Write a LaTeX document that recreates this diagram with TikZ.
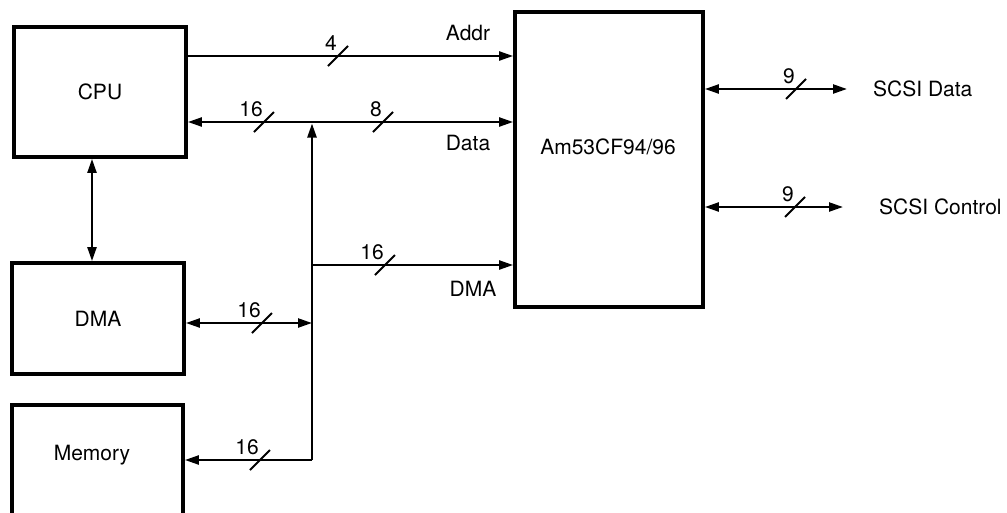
\documentclass[tikz,border=0pt]{standalone}
\usepackage{fontspec}
\setmainfont{TeX Gyre Heros}
\usetikzlibrary{arrows.meta,calc}
\begin{document}
\begin{tikzpicture}[x=1pt,y=-1pt,
  box/.style={draw,line width=3.8pt,inner sep=0pt},
  lbl/.style={font=\fontsize{21}{24}\selectfont,inner sep=0pt},
  wire/.style={line width=2.3pt},
  >={Triangle[length=14pt,width=9pt]},
  busslash/.pic={\draw[line width=2pt] (-10,10) -- (10,-10);}]
\clip (0,0) rectangle (1007,512);
% boxes
\node[box,lbl,minimum width=172pt,minimum height=130pt] (cpu) at (100,92) {CPU};
\node[box,lbl,minimum width=172pt,minimum height=111pt] (dma) at (98,318.5) {DMA};
\node[box,minimum width=171pt,minimum height=133pt] (mem) at (97.5,471.5) {};
\node[lbl,anchor=base] (memlbl) at (92,460) {Memory};
\node[box,minimum width=188pt,minimum height=295pt] (am) at (609,159.5) {};
\node[lbl] (amlbl) at (608,147) {Am53CF94/96};
% helper coordinates
\coordinate (yaddr) at (0,56);
\coordinate (ydata) at (0,122);
\coordinate (ydmab) at (0,265);
\coordinate (ydmal) at (0,323);
\coordinate (bustop) at (312,123.5);
\coordinate (busbot) at (312,460);
\coordinate (xcd) at (92,0);
% connectors
\draw[wire,->] (cpu.east |- yaddr) -- (am.west |- yaddr);
\draw[wire,<->] (cpu.east |- ydata) -- (am.west |- ydata);
\draw[wire,<->] (cpu.south -| xcd) -- (dma.north -| xcd);
\draw[wire,->] (busbot) -- (bustop);
\draw[wire,->] (bustop |- ydmab) -- (am.west |- ydmab);
\draw[wire,<->] (dma.east |- ydmal) -- (bustop |- ydmal);
\draw[wire,->] (busbot) -- (mem.east |- busbot);
\node[lbl,anchor=west] (scsid) at (873,89) {SCSI Data};
\node[lbl,anchor=west] (scsic) at (879,207) {SCSI Control};
\draw[wire,<->] (am.east |- scsid) -- ([xshift=-26pt]scsid.west);
\draw[wire,<->] (am.east |- scsic) -- ([xshift=-36pt]scsic.west);
% bus labels
\node[lbl] (addrlbl) at (468,33) {Addr};
\node[lbl] (datalbl) at (468,143) {Data};
\node[lbl] (dmalbl) at (473,289) {DMA};
% slashes with widths
\coordinate (s1) at (338,56);
\coordinate (s2) at (264,122);
\coordinate (s3) at (383,122);
\coordinate (s4) at (385,265);
\coordinate (s5) at (262,323);
\coordinate (s6) at (260,460);
\coordinate (s7) at (796,89);
\coordinate (s8) at (795,207);
\foreach \s/\t in {s1/4,s2/16,s3/8,s4/16,s5/16,s6/16,s7/9,s8/9}{
  \pic at (\s) {busslash};
  \node[lbl,anchor=south east] (w\s) at ($(\s)+(-1,-5)$) {\t};
}
\end{tikzpicture}
\end{document}
